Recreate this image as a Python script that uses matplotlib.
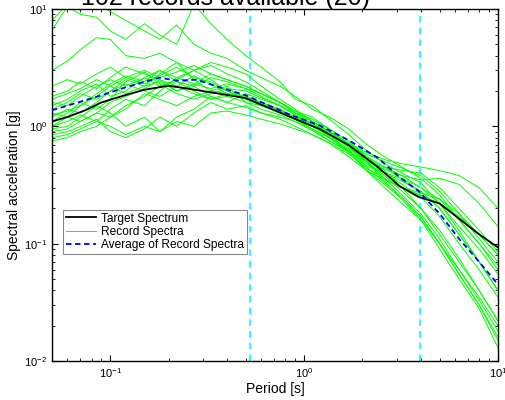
import numpy as np
import matplotlib
matplotlib.use("Agg")
import matplotlib.pyplot as plt

plt.rcParams['font.family'] = ['Liberation Sans', 'DejaVu Sans']
plt.rcParams['mathtext.default'] = 'regular'

# periods (s)
periods = [0.05, 0.06, 0.07, 0.085, 0.1, 0.12, 0.15, 0.18, 0.22, 0.27, 0.33, 0.4, 0.5,
           0.6, 0.75, 0.9, 1.1, 1.35, 1.7, 2.1, 2.6, 3.2, 4.0, 5.0, 6.3, 8.0, 10.0]

# record spectra [g]
records = [
    [8.0, 11, 12, 11, 9.5, 8.0, 6.5, 5.5, 7.3, 5.0, 4.2, 3.8, 3.0, 2.6, 2.2, 1.8, 1.4, 1.2, 0.95, 0.7, 0.55, 0.45, 0.36, 0.26, 0.16, 0.1, 0.06],
    [6.6, 10.5, 9, 8.5, 6.5, 5.5, 7.5, 6.0, 5.0, 11, 7.5, 5.5, 4.0, 3.2, 2.4, 1.7, 1.5, 1.15, 0.85, 0.62, 0.48, 0.4, 0.33, 0.22, 0.13, 0.07, 0.04],
    [3.0, 3.6, 4.5, 5.7, 5.5, 4.0, 3.8, 4.2, 3.5, 3.0, 3.3, 2.8, 2.4, 2.0, 1.6, 1.35, 1.2, 0.95, 0.75, 0.55, 0.45, 0.35, 0.28, 0.2, 0.12, 0.07, 0.04],
    [0.75, 0.8, 0.9, 1.0, 1.2, 1.5, 1.8, 2.2, 2.5, 3.0, 3.5, 3.2, 2.8, 2.2, 1.7, 1.4, 1.1, 0.9, 0.72, 0.55, 0.45, 0.38, 0.3, 0.24, 0.16, 0.1, 0.065],
    [0.9, 0.95, 1.1, 1.3, 1.2, 1.4, 1.9, 1.7, 1.5, 1.8, 2.0, 1.9, 1.8, 1.6, 1.4, 1.2, 1.0, 0.82, 0.62, 0.45, 0.33, 0.25, 0.17, 0.1, 0.055, 0.03, 0.015],
    [1.2, 1.4, 1.3, 1.6, 2.0, 2.5, 2.2, 2.8, 3.5, 2.5, 2.0, 2.2, 1.6, 1.5, 1.3, 1.15, 0.95, 0.8, 0.6, 0.42, 0.35, 0.3, 0.27, 0.24, 0.18, 0.12, 0.08],
    [1.5, 1.7, 2.0, 2.3, 1.8, 2.0, 2.6, 3.0, 2.4, 2.2, 2.6, 2.4, 2.1, 1.8, 1.5, 1.25, 1.05, 0.8, 0.62, 0.42, 0.3, 0.22, 0.16, 0.1, 0.06, 0.035, 0.02],
    [1.0, 1.1, 1.25, 1.1, 1.4, 1.7, 1.5, 2.0, 2.6, 3.0, 2.5, 2.0, 1.7, 1.5, 1.35, 1.2, 1.05, 0.9, 0.7, 0.55, 0.42, 0.3, 0.2, 0.12, 0.07, 0.04, 0.022],
    [1.8, 2.0, 2.4, 2.1, 2.6, 3.2, 2.8, 2.5, 2.2, 2.7, 2.3, 1.9, 1.7, 1.6, 1.4, 1.15, 0.95, 0.75, 0.62, 0.46, 0.4, 0.36, 0.3, 0.22, 0.14, 0.09, 0.055],
    [0.85, 0.9, 1.0, 1.15, 0.9, 0.8, 0.95, 1.2, 1.0, 1.3, 1.6, 1.4, 1.5, 1.3, 1.15, 1.0, 0.85, 0.72, 0.58, 0.44, 0.36, 0.3, 0.26, 0.22, 0.17, 0.12, 0.08],
    [1.3, 1.2, 1.5, 1.8, 2.2, 1.9, 2.2, 2.4, 2.0, 2.2, 1.8, 1.6, 1.45, 1.3, 1.2, 1.1, 0.95, 0.8, 0.64, 0.5, 0.45, 0.42, 0.4, 0.3, 0.2, 0.13, 0.085],
    [1.1, 1.3, 1.6, 1.4, 1.7, 2.4, 2.9, 2.3, 1.9, 1.7, 1.9, 2.1, 2.0, 1.75, 1.5, 1.25, 1.0, 0.85, 0.68, 0.5, 0.38, 0.28, 0.2, 0.13, 0.075, 0.04, 0.022],
    [2.2, 2.5, 2.3, 2.8, 3.2, 2.6, 2.3, 2.7, 3.2, 2.6, 2.4, 2.0, 1.8, 1.6, 1.35, 1.15, 1.0, 0.85, 0.66, 0.5, 0.36, 0.26, 0.18, 0.11, 0.06, 0.033, 0.018],
    [0.8, 0.85, 0.95, 1.1, 1.0, 0.85, 1.0, 0.9, 1.2, 1.4, 1.8, 1.6, 1.9, 1.7, 1.5, 1.3, 1.15, 0.95, 0.7, 0.5, 0.34, 0.24, 0.16, 0.09, 0.05, 0.028, 0.013],
    [1.6, 1.5, 1.8, 2.2, 2.5, 2.2, 2.6, 2.2, 2.4, 2.0, 1.7, 1.8, 1.6, 1.4, 1.25, 1.1, 0.92, 0.75, 0.6, 0.5, 0.43, 0.38, 0.35, 0.36, 0.32, 0.22, 0.14],
    [1.0, 1.2, 1.1, 1.3, 1.6, 1.8, 2.1, 2.5, 2.0, 2.3, 2.8, 2.5, 2.2, 1.9, 1.6, 1.3, 1.05, 0.85, 0.62, 0.48, 0.4, 0.34, 0.28, 0.2, 0.12, 0.07, 0.04],
    [1.4, 1.6, 1.9, 1.7, 2.0, 2.3, 2.0, 1.8, 2.2, 1.9, 1.7, 1.9, 1.75, 1.55, 1.35, 1.2, 1.05, 0.88, 0.7, 0.58, 0.5, 0.44, 0.38, 0.28, 0.18, 0.11, 0.07],
    [0.95, 1.0, 1.2, 1.5, 1.3, 1.0, 1.2, 0.9, 1.1, 1.0, 1.3, 1.35, 1.25, 1.15, 1.05, 0.95, 0.85, 0.72, 0.55, 0.42, 0.32, 0.24, 0.17, 0.1, 0.055, 0.03, 0.016],
    [1.25, 1.35, 1.5, 1.9, 2.3, 2.7, 2.4, 3.0, 2.6, 2.3, 2.1, 2.3, 2.1, 1.9, 1.6, 1.3, 1.1, 0.9, 0.72, 0.6, 0.52, 0.48, 0.45, 0.42, 0.38, 0.3, 0.2],
    [1.7, 1.9, 2.1, 2.5, 2.2, 2.6, 3.0, 2.6, 2.9, 3.3, 2.8, 2.5, 2.2, 1.9, 1.6, 1.35, 1.1, 0.9, 0.68, 0.52, 0.4, 0.32, 0.25, 0.17, 0.1, 0.06, 0.035],
]

# target spectrum
target_T = [0.05, 0.06, 0.075, 0.09, 0.12, 0.15, 0.2, 0.3, 0.5, 0.85, 1.2, 1.7, 2.4, 3.1, 3.9, 5.0, 8.0, 10.0]
target_Sa = [1.1, 1.2, 1.38, 1.6, 1.85, 2.05, 2.22, 2.0, 1.74, 1.2, 0.95, 0.69, 0.45, 0.31, 0.25, 0.22, 0.12, 0.093]

# average of record spectra
avg_T = [0.05, 0.06, 0.075, 0.09, 0.12, 0.15, 0.18, 0.22, 0.28, 0.35, 0.5, 0.85, 1.2, 1.7, 2.4, 3.1, 3.9, 5.0, 6.3, 8.0, 10.0]
avg_Sa = [1.37, 1.5, 1.68, 1.84, 2.15, 2.4, 2.6, 2.45, 2.5, 2.2, 1.84, 1.25, 1.02, 0.76, 0.54, 0.37, 0.28, 0.18, 0.11, 0.07, 0.045]

# period bounds of interest
bounds = [0.526, 3.94]

fig = plt.figure(figsize=(5.05, 4.0), dpi=100)
ax = fig.add_axes([0.103, 0.0975, 0.883, 0.88])

for i, r in enumerate(records):
    ax.plot(periods, r, color='#00ff00', lw=0.7, label='Record Spectra' if i == 0 else None, zorder=2)
ax.plot(target_T, target_Sa, color='k', lw=1.3, label='Target Spectrum', zorder=3)
ax.plot(avg_T, avg_Sa, color='#0000ff', lw=1.3, ls='--', dashes=(3, 2), label='Average of Record Spectra', zorder=4)
for b in bounds:
    ax.axvline(b, color='#00ffff', lw=1.2, ls='--', dashes=(4, 3), zorder=1)

ax.set_xscale('log')
ax.set_yscale('log')
ax.set_xlim(0.05, 10)
ax.set_ylim(0.01, 10)
ax.tick_params(which='both', direction='in', top=True, right=True, labelsize=8)
ax.tick_params(which='major', length=4)
ax.tick_params(which='minor', length=2)
for s in ax.spines.values():
    s.set_linewidth(1.0)
ax.set_xlabel('Period [s]', fontsize=10, labelpad=2)
ax.set_ylabel('Spectral acceleration [g]', fontsize=10, labelpad=2)

h, l = ax.get_legend_handles_labels()
order = [l.index('Target Spectrum'), l.index('Record Spectra'), l.index('Average of Record Spectra')]
leg = ax.legend([h[k] for k in order], [l[k] for k in order], loc='upper left',
                bbox_to_anchor=(0.025, 0.43), fontsize=8.6, fancybox=False,
                framealpha=1, edgecolor='#888888', handlelength=2.5,
                borderpad=0.25, labelspacing=0.1, handletextpad=0.4, borderaxespad=0)
leg.get_frame().set_linewidth(0.8)

fig.text(0.446, 0.9875, '102 records available (20)', fontsize=18, ha='center', va='baseline')

fig.savefig('out.png', dpi=100)
